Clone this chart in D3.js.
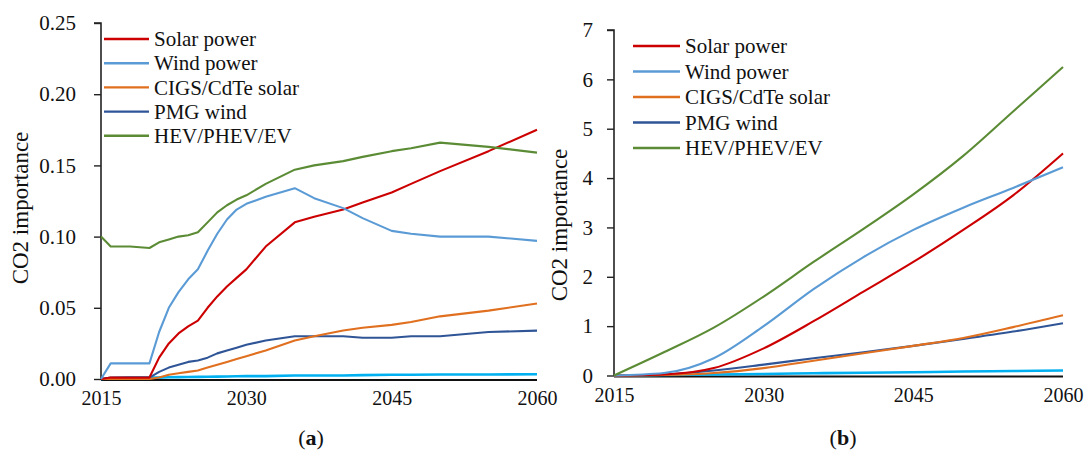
<!DOCTYPE html>
<html><head><meta charset="utf-8">
<script src="https://cdn.jsdelivr.net/npm/d3@7"></script>
<style>
body{margin:0;background:#fff;}
</style></head>
<body><svg id="c" width="1088" height="464"></svg>
<script>
const FONT = "'Liberation Serif', 'Times New Roman', Times, 'DejaVu Serif', serif";
const seriesNames = ["Solar power","Wind power","CIGS/CdTe solar","PMG wind","HEV/PHEV/EV"];
const seriesColors = ["#CC0000","#5B9BD5","#E0701F","#2F5597","#5B8C35","#00B0F0"];

// Panel (a)
const yearsA = [2015,2016,2018,2020,2021,2022,2023,2024,2025,2026,2027,2028,2029,2030,2032,2035,2037,2040,2042,2045,2047,2050,2055,2060];
const solarA = [0,0.001,0.001,0.001,0.015,0.025,0.032,0.037,0.041,0.050,0.058,0.065,0.071,0.077,0.093,0.110,0.114,0.119,0.124,0.131,0.137,0.146,0.160,0.175];
const windA  = [0,0.011,0.011,0.011,0.033,0.050,0.061,0.070,0.077,0.090,0.102,0.112,0.119,0.123,0.128,0.134,0.127,0.120,0.113,0.104,0.102,0.100,0.100,0.097];
const cigsA  = [0,0,0,0,0.001,0.003,0.004,0.005,0.006,0.008,0.010,0.012,0.014,0.016,0.020,0.027,0.030,0.034,0.036,0.038,0.040,0.044,0.048,0.053];
const pmgA   = [0,0.001,0.001,0.001,0.005,0.008,0.010,0.012,0.013,0.015,0.018,0.020,0.022,0.024,0.027,0.030,0.030,0.030,0.029,0.029,0.030,0.030,0.033,0.034];
const hevA   = [0.100,0.093,0.093,0.092,0.096,0.098,0.100,0.101,0.103,0.110,0.117,0.122,0.126,0.129,0.137,0.147,0.150,0.153,0.156,0.160,0.162,0.166,0.163,0.159];
const otherA = [0,0.0005,0.001,0.001,0.001,0.0012,0.0013,0.0014,0.0015,0.0016,0.0017,0.0018,0.0019,0.002,0.002,0.0025,0.0025,0.0025,0.0027,0.003,0.003,0.0032,0.0032,0.0033];
const yTicksA = [0,0.05,0.10,0.15,0.20,0.25];

// Panel (b)
const yearsB = [2015,2020,2025,2030,2035,2040,2045,2050,2055,2060];
const solarB = [0,0.02,0.15,0.55,1.1,1.7,2.3,2.95,3.65,4.5];
const windB  = [0,0.05,0.35,1.0,1.75,2.4,2.95,3.4,3.8,4.22];
const cigsB  = [0,0.01,0.05,0.15,0.3,0.45,0.6,0.76,0.98,1.22];
const pmgB   = [0,0.02,0.1,0.22,0.35,0.47,0.6,0.74,0.89,1.06];
const hevB   = [0,0.47,0.97,1.6,2.3,2.97,3.67,4.45,5.35,6.25];
const otherB = [0,0.01,0.02,0.03,0.045,0.055,0.065,0.08,0.09,0.1];
const yTicksB = [0,1,2,3,4,5,6,7];

const xTickYears = [2015,2030,2045,2060];

const svg = d3.select("#c");

function panel(cfg){
  const x = d3.scaleLinear().domain([2015,2060]).range([cfg.x0,cfg.x1]);
  const y = d3.scaleLinear().domain([0,cfg.yMax]).range([cfg.y0,cfg.y1]);
  const g = svg.append("g");
  const ya = g.append("g").attr("transform",`translate(${cfg.x0},0)`)
    .call(d3.axisLeft(y).tickValues(cfg.yTicks).tickFormat(cfg.fmt).tickSize(7).tickPadding(cfg.pad));
  ya.attr("font-family",FONT);
  ya.select(".domain").attr("stroke","#222").attr("stroke-width",1.6).attr("d",`M-7,${cfg.y1}H0V${cfg.y0}`);
  ya.selectAll(".tick line").attr("stroke","#222").attr("stroke-width",1.4);
  ya.selectAll("text").attr("font-family",FONT).style("font-family",FONT).style("font-size","21px").attr("fill","#111");
  const xa = g.append("g").attr("transform",`translate(0,${cfg.y0})`)
    .call(d3.axisBottom(x).tickValues(xTickYears).tickFormat(d3.format("d")).tickSize(0).tickPadding(12));
  xa.attr("font-family",FONT);
  xa.select(".domain").remove();
  xa.selectAll("text").attr("font-family",FONT).style("font-family",FONT).style("font-size","20px").attr("fill","#111");

  const series = cfg.series;
  const line = d3.line().x((d,i)=>x(cfg.years[i])).y(d=>y(d)).curve(cfg.curve);
  g.append("line").attr("x1",cfg.x0).attr("x2",cfg.x1).attr("y1",y(0)+1).attr("y2",y(0)+1)
    .attr("stroke","#111").attr("stroke-width",2.2);
  const order = [5,3,2,0,1,4];
  order.forEach(k=>{
    g.append("path").datum(series[k]).attr("d",line).attr("fill","none")
      .attr("stroke",seriesColors[k]).attr("stroke-width",k===5?2.6:2.1).attr("stroke-linejoin","round");
  });
  seriesNames.forEach((n,i)=>{
    const ly = cfg.legY + i*cfg.legDy;
    g.append("line").attr("x1",cfg.legX).attr("x2",cfg.legX+cfg.legW).attr("y1",ly).attr("y2",ly)
      .attr("stroke",seriesColors[i]).attr("stroke-width",2.4);
    g.append("text").attr("x",cfg.legX+cfg.legW+5).attr("y",ly).attr("dy","0.34em")
      .style("font-family",FONT).style("font-size","21px").attr("fill","#111").text(n);
  });
  g.append("text").attr("transform",`translate(${cfg.labX},${cfg.labY}) rotate(-90)`)
    .attr("text-anchor","middle").style("font-family",FONT).style("font-size","23px").attr("fill","#111").text("CO2 importance");
  const t = g.append("text").attr("x",cfg.capX).attr("y",445).attr("text-anchor","middle")
    .style("font-family",FONT).style("font-size","22px").attr("fill","#111");
  t.append("tspan").text("(");
  t.append("tspan").style("font-weight","bold").text(cfg.letter);
  t.append("tspan").text(")");
}

panel({x0:101,x1:537,y0:379,y1:23,yMax:0.25,yTicks:yTicksA,fmt:d3.format(".2f"),pad:18,
  years:yearsA,series:[solarA,windA,cigsA,pmgA,hevA,otherA],curve:d3.curveLinear,
  legX:104,legW:45,legY:39,legDy:24.2,labX:28,labY:208,capX:311,letter:"a"});
panel({x0:614,x1:1063,y0:375.5,y1:30,yMax:7,yTicks:yTicksB,fmt:d3.format("d"),pad:14,
  years:yearsB,series:[solarB,windB,cigsB,pmgB,hevB,otherB],curve:d3.curveMonotoneX,
  legX:633,legW:47,legY:46,legDy:25.5,labX:567,labY:225,capX:843,letter:"b"});
</script></body></html>
